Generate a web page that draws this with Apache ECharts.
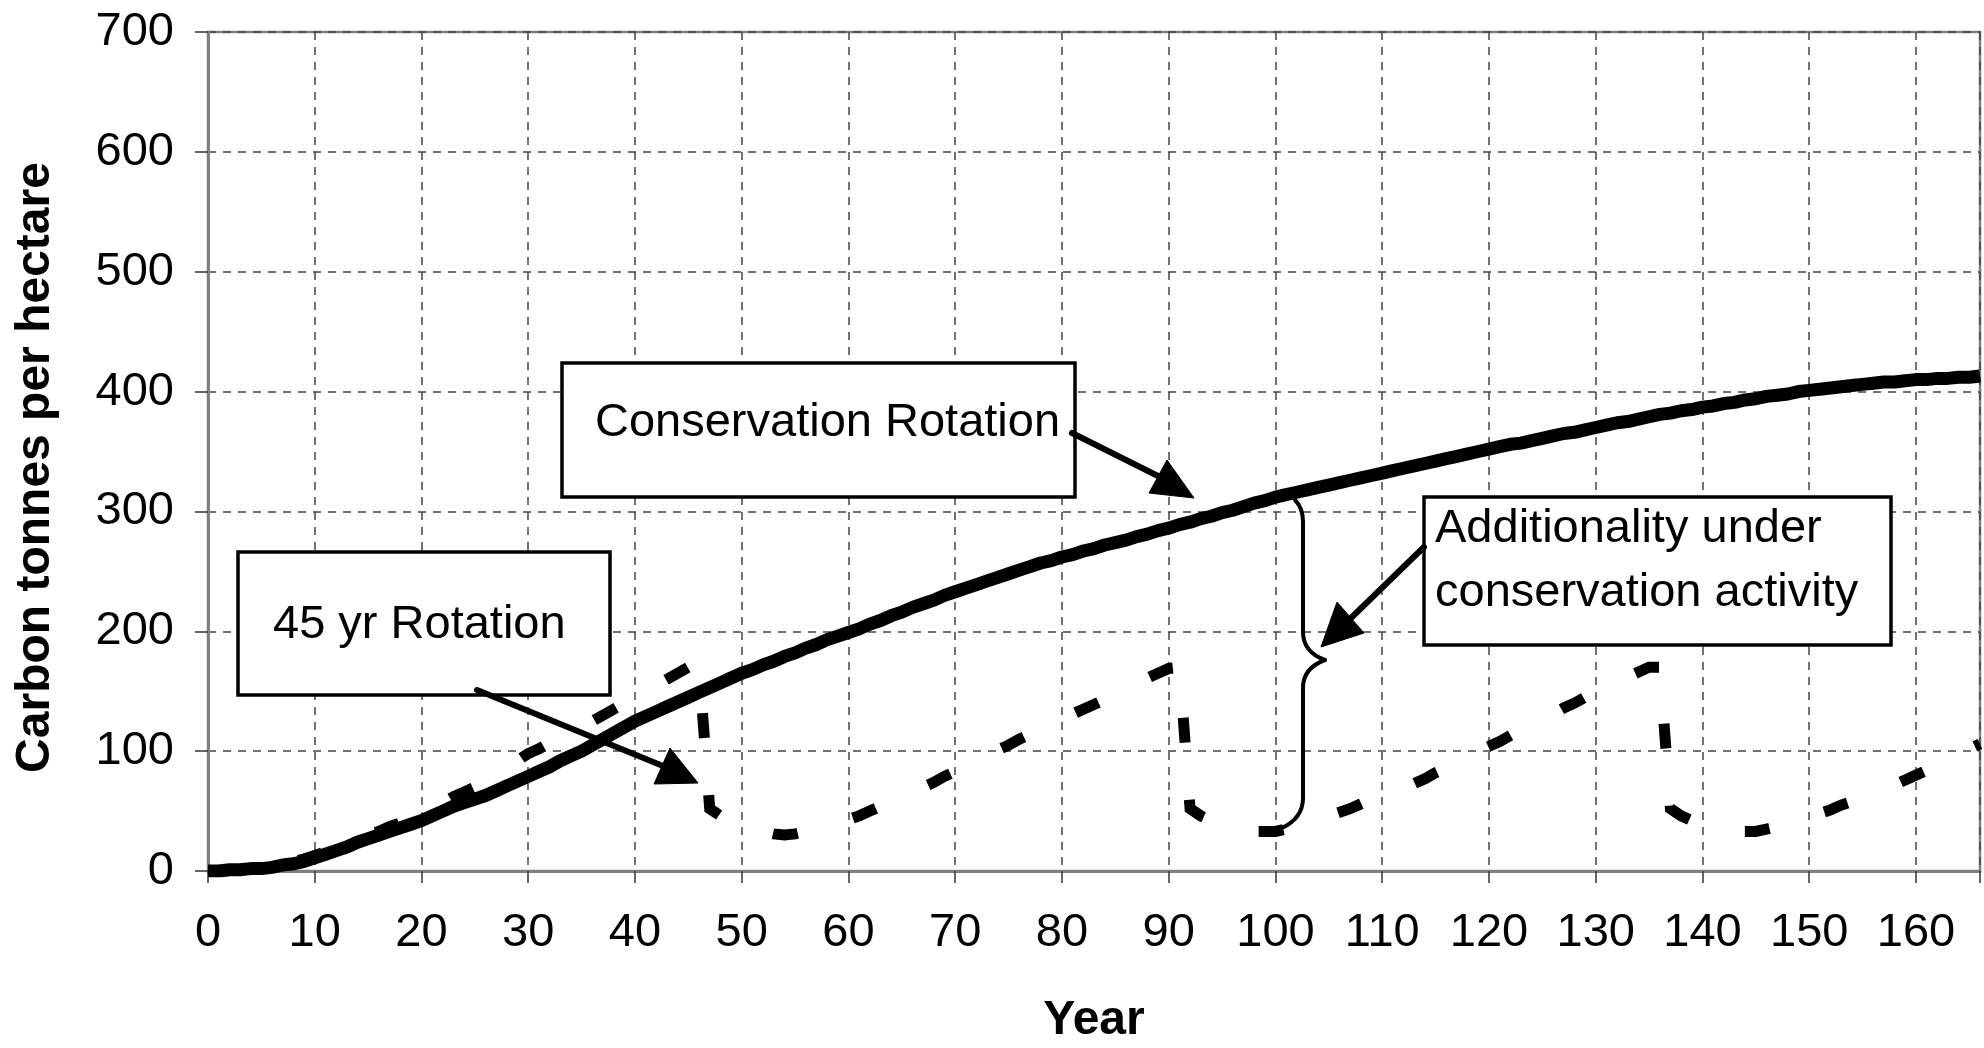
<!DOCTYPE html>
<html>
<head>
<meta charset="utf-8">
<script src="https://cdn.jsdelivr.net/npm/echarts@6/dist/echarts.min.js"></script>
<style>
html,body{margin:0;padding:0;background:#ffffff;}
#chart{width:1984px;height:1048px;}
</style>
</head>
<body>
<div id="chart"></div>
<script>
// ---- Data (value per year, index = year 0..166) ----
const conservationRotation = [
  0,0,1,1,2,2,3,5,6,8,
  11,14,17,20,24,27,30,33,36,39,
  42,46,50,54,57,60,63,67,71,75,
  79,83,87,92,96,100,105,110,115,120,
  125,129,133,137,141,145,149,153,157,161,
  165,168,172,175,179,182,186,189,193,196,
  199,202,206,209,213,216,220,223,226,230,
  233,236,239,242,245,248,251,254,257,259,
  262,264,267,269,272,274,276,279,281,284,
  286,289,291,294,296,299,301,304,307,309,
  312,314,316,318,320,322,324,326,328,330,
  332,334,336,338,340,342,344,346,348,350,
  352,354,356,357,359,361,363,365,366,368,
  370,372,374,375,377,379,381,382,384,385,
  387,388,390,391,393,394,396,397,398,400,
  401,402,403,404,405,406,407,408,408,409,
  410,410,411,411,412,412,413
];
const rotation45yr = [
  0,0,0.5,1,1.5,2,3,5,8,10,
  13,16,19,23,26,30,33,37,40,44,
  47,52,57,62,66,70,76,81,87,92,
  98,102,107,111,116,120,125,130,135,140,
  145,150,155,160,165,170,170,52,46,42,
  38,35,33,31,30,31,33,35,37,40,
  43,46,50,54,58,62,66,70,74,79,
  83,88,92,96,101,105,110,114,119,123,
  127,131,135,139,143,147,152,156,161,165,
  169,170,52,46,42,39,36,34,33,33,
  33,35,37,40,43,46,49,52,56,60,
  63,67,70,73,77,82,86,91,95,100,
  104,108,113,118,122,127,131,136,140,145,
  150,154,158,162,166,170,170,52,46,42,
  39,36,34,33,33,33,35,37,40,43,
  46,48,51,55,58,62,65,69,72,76,
  80,84,88,92,97,102,106
];
const xTickLabels = [0,10,20,30,40,50,60,70,80,90,100,110,120,130,140,150,160];
const yTickLabels = [0,100,200,300,400,500,600,700];
const xAxisTitle = 'Year';
const yAxisTitle = 'Carbon tonnes per hectare';
const labelConservation = 'Conservation Rotation';
const label45 = '45 yr Rotation';
const labelAdditionality = ['Additionality under', 'conservation activity'];

// ---- Chart ----
const FONT = '"Liberation Sans", Arial, Helvetica, sans-serif';
const chart = echarts.init(document.getElementById('chart'), null, {renderer: 'canvas'});
const toPairs = arr => arr.map((v, i) => [i, v]);
const lastYear = conservationRotation.length - 1;

const blk = '#000000';
const annotationFont = '47px ' + FONT;

function arrow(x1, y1, x2, y2, head) {
  return [
    {type: 'line', z: 100, shape: {x1: x1, y1: y1, x2: x2, y2: y2},
     style: {stroke: blk, lineWidth: 6, lineCap: 'round'}},
    {type: 'polygon', z: 101, shape: {points: head},
     style: {fill: blk, stroke: blk, lineWidth: 1}}
  ];
}
function seg(x1, y1, x2, y2) {
  return {type: 'line', z: 100, shape: {x1: x1, y1: y1, x2: x2, y2: y2},
    style: {stroke: blk, lineWidth: 4, lineCap: 'round'}};
}
function curve(x1, y1, cx, cy, x2, y2) {
  return {type: 'bezierCurve', z: 100,
    shape: {x1: x1, y1: y1, cpx1: cx, cpy1: cy, x2: x2, y2: y2},
    style: {stroke: blk, lineWidth: 4, fill: null, lineCap: 'round'}};
}
function boxText(text, x, y) {
  return {type: 'text', z: 95, style: {text: text, x: x, y: y, font: annotationFont,
    fill: blk, verticalAlign: 'bottom'}};
}
function box(x, y, w, h) {
  return {type: 'rect', z: 90, shape: {x: x, y: y, width: w, height: h},
    style: {fill: '#ffffff', stroke: blk, lineWidth: 3.5}};
}

const graphics = [
  box(562, 363, 513, 134),
  boxText(labelConservation, 595, 447),
  box(238, 552, 372, 143),
  boxText(label45, 273, 649),
  box(1424, 497, 467, 148),
  boxText(labelAdditionality[0], 1435, 553),
  boxText(labelAdditionality[1], 1435, 617),
  // curly brace
  curve(1295, 500, 1303, 508, 1303, 522),
  seg(1303, 522, 1303, 632),
  curve(1303, 632, 1303, 652, 1325, 660),
  curve(1325, 660, 1303, 668, 1303, 688),
  seg(1303, 688, 1303, 798),
  curve(1303, 798, 1303, 818, 1282, 828)
].concat(
  arrow(1072, 433, 1160, 477, [[1194, 498], [1167, 460], [1149, 493]]),
  arrow(477, 690, 663, 766, [[698, 783], [670, 748], [654, 784]]),
  arrow(1424, 547, 1351, 618, [[1321, 647], [1337, 602], [1364, 633]])
);

const option = {
  animation: false,
  backgroundColor: '#ffffff',
  grid: {
    left: 208, right: 4, top: 32, bottom: 177,
    show: true, borderColor: '#808080', borderWidth: 2.5,
    outerBoundsMode: 'none', containLabel: false
  },
  xAxis: {
    type: 'value',
    min: xTickLabels[0], max: lastYear, interval: 10,
    axisLine: {show: true, onZero: false, lineStyle: {color: '#808080', width: 3}},
    axisTick: {show: true, length: 12, lineStyle: {color: '#333', width: 1.5}},
    axisLabel: {
      fontSize: 47, color: blk, fontFamily: FONT, margin: 39,
      formatter: v => (xTickLabels.indexOf(v) >= 0 ? String(v) : '')
    },
    splitLine: {show: true, lineStyle: {type: [8, 7], color: '#444', width: 1.5}},
    name: xAxisTitle, nameLocation: 'middle', nameGap: 126,
    nameTextStyle: {fontSize: 48, fontWeight: 'bold', fontFamily: FONT, color: blk}
  },
  yAxis: {
    type: 'value',
    min: yTickLabels[0], max: yTickLabels[yTickLabels.length - 1], interval: 100,
    axisLine: {show: true, onZero: false, lineStyle: {color: '#808080', width: 3}},
    axisTick: {show: true, length: 13, lineStyle: {color: '#333', width: 1.5}},
    axisLabel: {fontSize: 47, color: blk, fontFamily: FONT, margin: 34},
    splitLine: {show: true, lineStyle: {type: [8, 7], color: '#444', width: 1.5}},
    name: yAxisTitle, nameLocation: 'middle', nameGap: 148, nameRotate: 90,
    nameTextStyle: {fontSize: 48, fontWeight: 'bold', fontFamily: FONT, color: blk,
      padding: [0, 32, 0, 0]}
  },
  series: [
    {
      name: 'Conservation Rotation', type: 'line', data: toPairs(conservationRotation),
      showSymbol: false, symbol: 'none', z: 3,
      lineStyle: {color: blk, width: 13, cap: 'butt', join: 'round'}
    },
    {
      name: '45 yr Rotation', type: 'line', data: toPairs(rotation45yr),
      showSymbol: false, symbol: 'none', z: 4,
      lineStyle: {color: blk, width: 11, type: [25, 57.24], dashOffset: 73.08, cap: 'butt', join: 'miter'}
    }
  ],
  graphic: graphics
};
chart.setOption(option);
</script>
</body>
</html>
